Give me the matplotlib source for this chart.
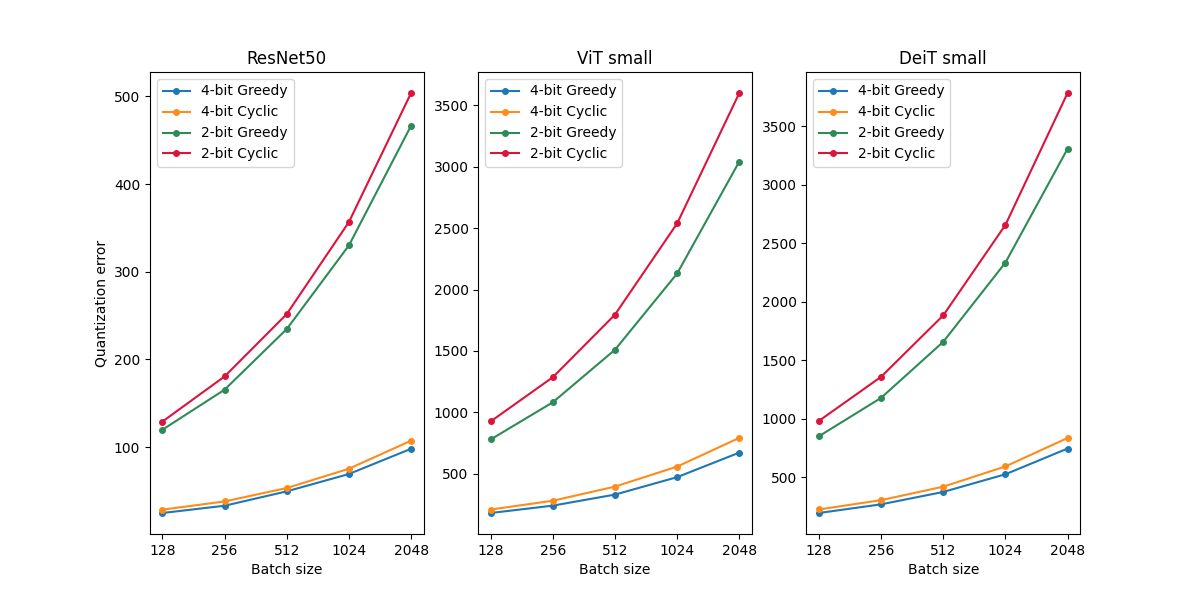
import matplotlib
matplotlib.use("Agg")
import matplotlib.pyplot as plt
from matplotlib.ticker import FixedLocator, FixedFormatter, NullLocator

batch_sizes = [128, 256, 512, 1024, 2048]
series_labels = ["4-bit Greedy", "4-bit Cyclic", "2-bit Greedy", "2-bit Cyclic"]
titles = ["ResNet50", "ViT small", "DeiT small"]

resnet_4g = [24.7, 33, 49.4, 69.2, 98]
resnet_4c = [28.5, 37.9, 53.2, 75.2, 107.2]
resnet_2g = [119.7, 165.4, 234.6, 330, 466.6]
resnet_2c = [129, 180.5, 251.7, 356.7, 503.9]

vit_4g = [180, 240, 330, 472, 672]
vit_4c = [208, 280, 395, 558, 792]
vit_2g = [779, 1082, 1510, 2131, 3043]
vit_2c = [926, 1286, 1796, 2539, 3601]

deit_4g = [196, 270, 376, 527, 747]
deit_4c = [226, 306, 421, 594, 837]
deit_2g = [852, 1180, 1659, 2336, 3309]
deit_2c = [983, 1360, 1885, 2658, 3786]

panels = [
    [resnet_4g, resnet_4c, resnet_2g, resnet_2c],
    [vit_4g, vit_4c, vit_2g, vit_2c],
    [deit_4g, deit_4c, deit_2g, deit_2c],
]
colors = ["#1f77b4", "#ff8c1a", "#2e8b57", "#dc143c"]

fig, axes = plt.subplots(1, 3, figsize=(12, 6), dpi=100)
for ax, title, data in zip(axes, titles, panels):
    for vals, lab, c in zip(data, series_labels, colors):
        ax.plot(batch_sizes, vals, marker="o", markersize=4, color=c, label=lab)
    ax.set_xscale("log", base=2)
    ax.xaxis.set_major_locator(FixedLocator(batch_sizes))
    ax.xaxis.set_major_formatter(FixedFormatter([str(b) for b in batch_sizes]))
    ax.xaxis.set_minor_locator(NullLocator())
    ax.set_title(title)
    ax.set_xlabel("Batch size")
    ax.legend(loc="upper left")
axes[0].set_ylabel("Quantization error")

fig.savefig("out.png")
